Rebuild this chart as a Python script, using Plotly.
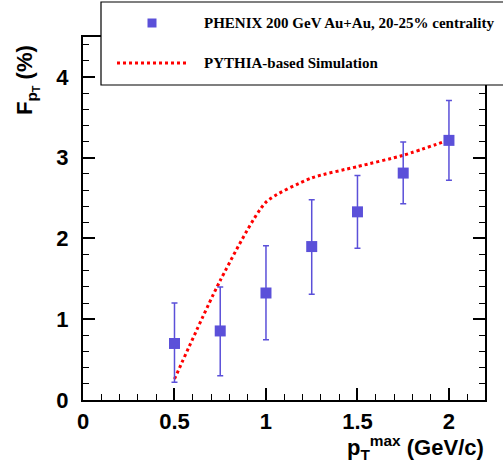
import plotly.graph_objects as go

pt = [0.5, 0.75, 1.0, 1.25, 1.5, 1.75, 2.0]
F_data = [0.70, 0.855, 1.325, 1.90, 2.33, 2.81, 3.215]
err_plus = [0.50, 0.545, 0.585, 0.58, 0.45, 0.385, 0.495]
err_minus = [0.48, 0.555, 0.58, 0.59, 0.45, 0.38, 0.495]
sim = [0.26, 1.48, 2.45, 2.75, 2.89, 3.03, 3.22]

data_label = "PHENIX 200 GeV Au+Au, 20-25% centrality"
sim_label = "PYTHIA-based Simulation"

W, H = 503, 467
L, R, T, B = 83, 18, 37, 67
pw, ph = W - L - R, H - T - B

def px(x):
    return (x - L) / pw

def py(y):
    return (H - B - y) / ph

blue = "#5b50d9"
fnt = "Liberation Sans"

fig = go.Figure()
fig.add_trace(go.Scatter(
    x=pt, y=sim, mode="lines",
    line=dict(color="red", width=3, dash="dot", shape="spline", smoothing=0.6),
    name=sim_label, showlegend=False))
fig.add_trace(go.Scatter(
    x=pt, y=F_data, mode="markers",
    marker=dict(symbol="square", size=11, color=blue),
    error_y=dict(type="data", symmetric=False, array=err_plus, arrayminus=err_minus,
                 color=blue, thickness=1.5, width=3),
    name=data_label, showlegend=False))

axis_common = dict(
    showline=True, linecolor="black", linewidth=2, mirror="allticks",
    ticks="inside", ticklen=12, tickwidth=1.5, tickcolor="black",
    showgrid=False, zeroline=False,
    tickfont=dict(family=fnt, size=22, color="black", weight="bold"),
)
fig.update_xaxes(range=[0, 2.197], tickvals=[0, 0.5, 1, 1.5, 2],
                 ticktext=["0", "0.5", "1", "1.5", "2"], ticklabelstandoff=1,
                 minor=dict(dtick=0.1, ticks="inside", ticklen=6, tickwidth=1.2, tickcolor="black"),
                 **axis_common)
fig.update_yaxes(range=[0, 4.495], tickvals=[0, 1, 2, 3, 4], ticklabelstandoff=8,
                 minor=dict(dtick=0.2, ticks="inside", ticklen=6, tickwidth=1.2, tickcolor="black"),
                 **axis_common)

# legend box (custom)
fig.add_shape(type="rect", xref="paper", yref="paper",
              x0=px(101), x1=px(515), y0=py(85), y1=py(2),
              line=dict(color="black", width=1.2), fillcolor="white", layer="above")
fig.add_shape(type="rect", xref="paper", yref="paper",
              x0=px(147.5), x1=px(156.5), y0=py(27.5), y1=py(18.5),
              line=dict(width=0), fillcolor=blue, layer="above")
fig.add_shape(type="line", xref="paper", yref="paper",
              x0=px(117), x1=px(187), y0=py(63), y1=py(63),
              line=dict(color="red", width=3, dash="dot"), layer="above")
leg_font = dict(family="Liberation Serif", size=15, color="black", weight="bold")
fig.add_annotation(xref="paper", yref="paper", x=px(202), y=py(23), text=data_label,
                   showarrow=False, xanchor="left", yanchor="middle", font=leg_font)
fig.add_annotation(xref="paper", yref="paper", x=px(202), y=py(63), text=sim_label,
                   showarrow=False, xanchor="left", yanchor="middle", font=leg_font)

# axis titles
fig.add_annotation(xref="paper", yref="paper", x=px(27), y=py(80),
                   text="F<sub>p<sub>T</sub></sub> (%)", textangle=-90,
                   showarrow=False, xanchor="center", yanchor="middle",
                   font=dict(family=fnt, size=22, color="black", weight="bold"))
fig.add_annotation(xref="paper", yref="paper", x=px(486), y=py(447),
                   text="p<sub>T</sub><sup>max</sup> (GeV/c)",
                   showarrow=False, xanchor="right", yanchor="middle",
                   font=dict(family=fnt, size=22, color="black", weight="bold"))

fig.update_layout(width=W, height=H, margin=dict(l=L, r=R, t=T, b=B),
                  plot_bgcolor="white", paper_bgcolor="white", showlegend=False)
fig.write_html("out.html")
